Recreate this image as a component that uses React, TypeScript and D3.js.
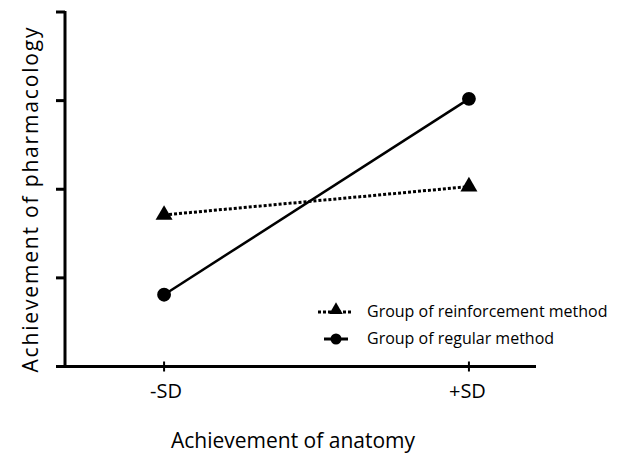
import React from "react";
import * as d3 from "d3";

const categories = ["-SD", "+SD"];
const categoryX = [-1, 1];
const reinforcement = [1.71, 2.03];
const regular = [0.81, 3.02];
const yTicks = [0, 1, 2, 3, 4];
const seriesNames = ["Group of reinforcement method", "Group of regular method"];

const W = 629;
const H = 457;
const FONT = "'Open Sans', sans-serif";

export default function App() {
  const x = d3.scaleLinear().domain([-1.65, 1.44]).range([65, 536]);
  const y = d3.scaleLinear().domain([0, 4]).range([366.5, 12]);
  const line = d3
    .line<number>()
    .x((_, i) => x(categoryX[i]))
    .y((d) => y(d));
  const tri = d3.symbol(d3.symbolTriangle, 125)();
  const circ = d3.symbol(d3.symbolCircle, 150)();
  const labelShift = [2, -1.5];

  return (
    <svg width={W} height={H} style={{ position: "absolute", left: 0, top: 0, background: "#fff" }}>
      <rect width={W} height={H} fill="#fff" />
      {/* y axis */}
      <line x1={65} x2={65} y1={y(4) - 1} y2={y(0)} stroke="#000" strokeWidth={3} />
      {yTicks.map((t) => (
        <line key={t} x1={56} x2={65} y1={y(t)} y2={y(t)} stroke="#000" strokeWidth={3} />
      ))}
      {/* x axis */}
      <line x1={63.5} x2={536} y1={y(0)} y2={y(0)} stroke="#000" strokeWidth={3} />
      {categories.map((c, i) => (
        <g key={c}>
          <line x1={x(categoryX[i])} x2={x(categoryX[i])} y1={y(0) - 5} y2={y(0) + 5} stroke="#000" strokeWidth={2} />
          <text
            x={x(categoryX[i]) + labelShift[i]}
            y={398}
            textAnchor="middle"
            fontFamily={FONT}
            fontSize={20}
            fill="#000"
          >
            {c}
          </text>
        </g>
      ))}
      {/* titles */}
      <text x={293} y={448} textAnchor="middle" fontFamily={FONT} fontSize={21} fill="#000">
        Achievement of anatomy
      </text>
      <text
        transform={`translate(38,200) rotate(-90)`}
        textAnchor="middle"
        fontFamily={FONT}
        fontSize={21}
        textLength={345}
        lengthAdjust="spacing"
        fill="#000"
      >
        Achievement of pharmacology
      </text>
      {/* series */}
      <path d={line(reinforcement) || ""} fill="none" stroke="#000" strokeWidth={3} strokeDasharray="3,2" />
      <path d={line(regular) || ""} fill="none" stroke="#000" strokeWidth={2.5} />
      {reinforcement.map((v, i) => (
        <path key={"t" + i} d={tri || ""} transform={`translate(${x(categoryX[i])},${y(v)})`} fill="#000" />
      ))}
      {regular.map((v, i) => (
        <path key={"c" + i} d={circ || ""} transform={`translate(${x(categoryX[i])},${y(v)})`} fill="#000" />
      ))}
      {/* legend */}
      <g>
        <line x1={318} x2={353} y1={312} y2={312} stroke="#000" strokeWidth={3} strokeDasharray="3,2" />
        <path d={d3.symbol(d3.symbolTriangle, 80)() || ""} transform="translate(336,310)" fill="#000" />
        <text x={367} y={317} fontFamily={FONT} fontSize={16} fill="#000">
          {seriesNames[0]}
        </text>
        <line x1={324} x2={348} y1={339} y2={339} stroke="#000" strokeWidth={3} />
        <path d={d3.symbol(d3.symbolCircle, 95)() || ""} transform="translate(336,339)" fill="#000" />
        <text x={367} y={344} fontFamily={FONT} fontSize={16} fill="#000">
          {seriesNames[1]}
        </text>
      </g>
    </svg>
  );
}
